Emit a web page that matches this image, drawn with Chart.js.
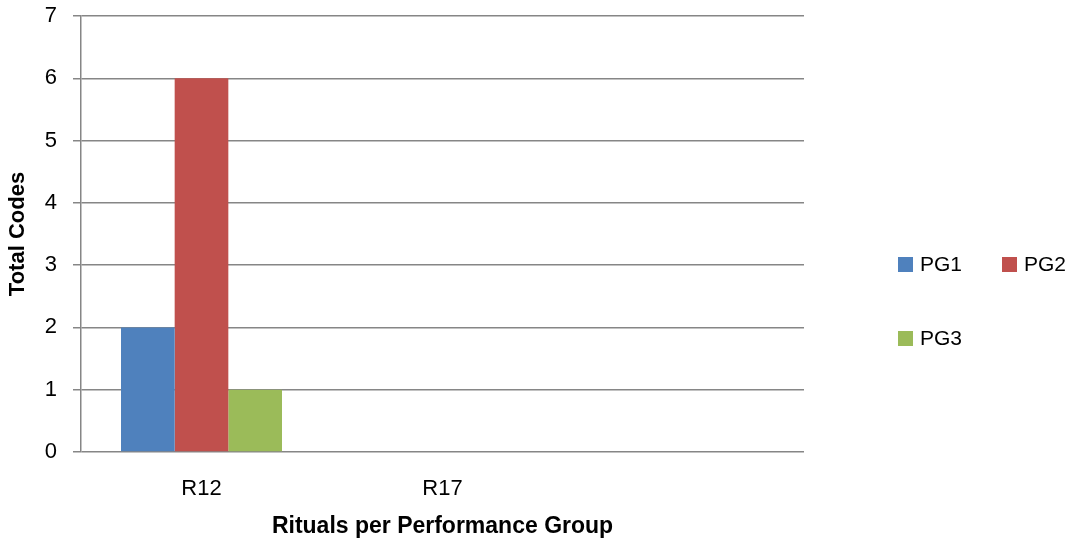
<!DOCTYPE html>
<html>
<head>
<meta charset="utf-8">
<script src="https://cdn.jsdelivr.net/npm/chart.js@4"></script>
<style>
  html, body { margin: 0; padding: 0; background: #fff; }
  #wrap { position: relative; width: 1070px; height: 540px; }
  #legend { position: absolute; left: 898px; top: 252px; width: 170px;
            font-family: "Liberation Sans", Arial, sans-serif; font-size: 21px; color: #000; }
  .item { position: absolute; display: flex; align-items: center; white-space: nowrap; }
  .sw { width: 15px; height: 15px; margin-right: 7px; }
</style>
</head>
<body>
<div id="wrap">
  <canvas id="c" width="1070" height="540"></canvas>
  <div id="legend"></div>
</div>
<script>
// Categories and series
const categories = ['R12', 'R17', ''];
const seriesNames = ['PG1', 'PG2', 'PG3'];
const pg1 = [2, null, null];
const pg2 = [6, null, null];
const pg3 = [1, null, null];
const yTicks = [0, 1, 2, 3, 4, 5, 6, 7];
const colors = ['#4F81BD', '#C0504D', '#9BBB59'];

const seriesValues = [pg1, pg2, pg3];
const datasets = seriesNames.map((name, i) => ({
  label: name,
  data: seriesValues[i],
  backgroundColor: colors[i],
  borderWidth: 0,
  barPercentage: 1.0,
  categoryPercentage: 0.668
}));

const FONT = '"Liberation Sans", Arial, sans-serif';

new Chart(document.getElementById('c'), {
  type: 'bar',
  data: { labels: categories, datasets },
  options: {
    responsive: false,
    animation: false,
    plugins: { legend: { display: false }, tooltip: { enabled: false } },
    layout: { padding: { left: 0, top: 16, right: 266, bottom: 0 } },
    scales: {
      x: {
        grid: { display: false, drawTicks: false },
        border: { display: false },
        ticks: { color: '#000', font: { family: FONT, size: 22 }, padding: 24, maxRotation: 0 },
        title: { display: true, text: 'Rituals per Performance Group', color: '#000',
                 font: { family: FONT, size: 23, weight: 'bold' }, padding: { top: 0, bottom: 0 } },
        afterFit: (s) => { s.height = 88; s.paddingLeft = 0; s.paddingRight = 0; }
      },
      y: {
        min: 0, max: 7,
        afterBuildTicks: (s) => { s.ticks = yTicks.map(v => ({ value: v })); },
        grid: { color: '#868686', lineWidth: 1.5, tickLength: 8, drawTicks: true },
        border: { display: true, color: '#868686', width: 1.5 },
        ticks: { color: '#000', font: { family: FONT, size: 22 }, padding: 16 },
        title: { display: true, text: 'Total Codes', color: '#000',
                 font: { family: FONT, size: 22, weight: 'bold' }, padding: { top: 5, bottom: 0 } },
        afterFit: (s) => { s.width = 81; s.paddingTop = 0; s.paddingBottom = 0; }
      }
    }
  }
});

// Two-column legend on the right
const legend = document.getElementById('legend');
const pos = [[0, 0], [104, 0], [0, 74]];
seriesNames.forEach((name, i) => {
  const it = document.createElement('div');
  it.className = 'item';
  it.style.left = pos[i][0] + 'px';
  it.style.top = pos[i][1] + 'px';
  it.innerHTML = '<span class="sw" style="background:' + colors[i] + '"></span><span>' + name + '</span>';
  legend.appendChild(it);
});
</script>
</body>
</html>
